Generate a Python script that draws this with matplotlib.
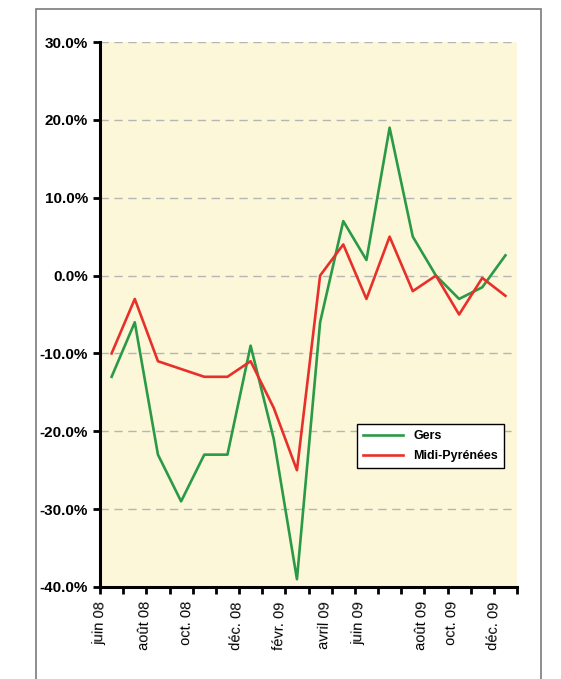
import matplotlib.pyplot as plt
from matplotlib.patches import Rectangle
from matplotlib.ticker import FuncFormatter, MultipleLocator

# Monthly change (%)
gers = [-13, -6, -23, -29, -23, -23, -9, -21, -39, -6, 7, 2, 19, 5, 0, -3, -1.5, 2.6]
midi_pyrenees = [-10, -3, -11, -12, -13, -13, -11, -17, -25, 0, 4, -3, 5, -2, 0, -5, -0.3, -2.6]

month_labels = ["juin 08", "août 08", "oct. 08", "déc. 08", "févr. 09",
                "avril 09", "juin 09", "août 09", "oct. 09", "déc. 09"]
label_pos = [-0.5, 1.44, 3.25, 5.4, 7.26, 9.2, 10.7, 13.38, 14.7, 16.5]

plt.rcParams['font.family'] = ['Liberation Sans', 'DejaVu Sans']

fig = plt.figure(figsize=(5.61, 6.79), dpi=100)
ax = fig.add_axes([0.1783, 0.1355, 0.7433, 0.8026])
ax.set_facecolor('#fdf7da')

# outer frame around the chart
fig.patches.append(Rectangle((36 / 561, -0.05), (541 - 36) / 561, 1.05 - 9 / 679,
                             transform=fig.transFigure, fill=False,
                             edgecolor='#7a7a7a', linewidth=1.2))

x = range(len(gers))
ax.plot(x, gers, color='#2a9a46', linewidth=1.9, label='Gers')
ax.plot(x, midi_pyrenees, color='#e8302a', linewidth=1.9, label='Midi-Pyrénées')

ax.set_xlim(-0.5, len(gers) - 0.5)
ax.set_ylim(-40, 30)
ax.yaxis.set_major_locator(MultipleLocator(10))
ax.yaxis.set_major_formatter(FuncFormatter(lambda v, p: f"{v:.1f}%"))
ax.grid(axis='y', color='#b5b5b5', linestyle=(0, (6, 4)), linewidth=1)
ax.set_axisbelow(True)

for s in ['top', 'right']:
    ax.spines[s].set_visible(False)
ax.spines['left'].set_linewidth(2.2)
ax.spines['bottom'].set_linewidth(2.2)

ax.set_xticks([i - 0.5 for i in range(len(gers) + 1)])
ax.set_xticklabels([])
ax.tick_params(axis='x', length=5, width=2, direction='out')
ax.tick_params(axis='y', length=5, width=2, direction='out', labelsize=11)
for t in ax.get_yticklabels():
    t.set_fontweight('bold')

for lab, xp in zip(month_labels, label_pos):
    ax.text(xp, -41.8, lab, rotation=88, ha='center', va='top',
            fontsize=10.5, rotation_mode='default')

leg = ax.legend(loc='lower left', bbox_to_anchor=(0.616, 0.218), borderaxespad=0,
                fancybox=False, edgecolor='black', framealpha=1,
                prop={'weight': 'bold', 'size': 9}, handlelength=3.2,
                borderpad=0.5, labelspacing=0.6)
leg.get_frame().set_linewidth(1)

fig.savefig('out.png', dpi=100)
